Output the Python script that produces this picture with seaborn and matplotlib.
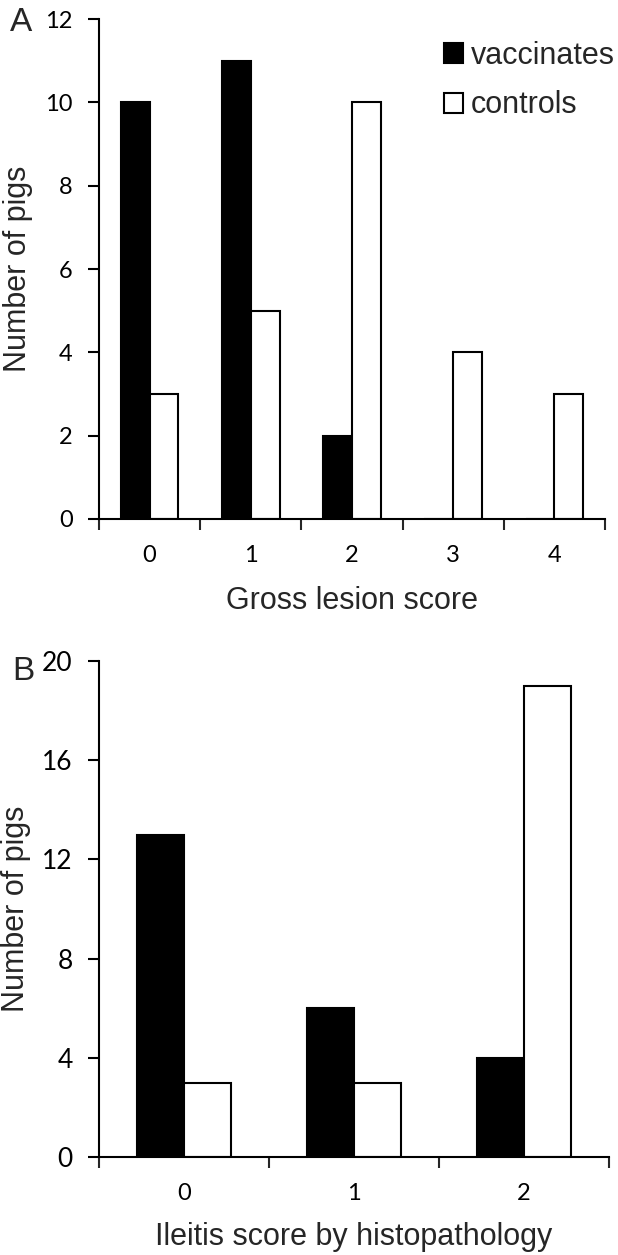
import matplotlib
matplotlib.use("Agg")
import matplotlib.pyplot as plt
from matplotlib.patches import Patch
from matplotlib.ticker import FixedLocator
import seaborn as sns
import pandas as pd

# ---- data ----
groups = ["vaccinates", "controls"]
gross_scores = ["0", "1", "2", "3", "4"]
gross_vaccinates = [10, 11, 2, 0, 0]
gross_controls = [3, 5, 10, 4, 3]
ileitis_scores = ["0", "1", "2"]
ileitis_vaccinates = [13, 6, 4]
ileitis_controls = [3, 3, 19]
gross_yticks = [0, 2, 4, 6, 8, 10, 12]
ileitis_yticks = [0, 4, 8, 12, 16, 20]

sns.set_style("ticks")
plt.rcParams["font.family"] = ["Liberation Sans", "DejaVu Sans"]
TICKFONT = "Lato"

def make_df(scores, vac, con):
    rows = []
    for s, v in zip(scores, vac):
        rows.append({"score": s, "group": "vaccinates", "count": v})
    for s, c in zip(scores, con):
        rows.append({"score": s, "group": "controls", "count": c})
    return pd.DataFrame(rows)

W, H = 618, 1255
fig = plt.figure(figsize=(W / 100, H / 100), dpi=100)

def ax_rect(x0, y0, x1, y1):
    return [x0 / W, 1 - y1 / H, (x1 - x0) / W, (y1 - y0) / H]

axA = fig.add_axes(ax_rect(99, 19, 605, 519))
axB = fig.add_axes(ax_rect(99, 661, 609, 1157))

palette = {"vaccinates": "black", "controls": "white"}
LW = 1.5

def draw(ax, scores, vac, con, yticks, ymax, xlabel, ylab_x, xlab_y, ytick_size, width):
    df = make_df(scores, vac, con)
    sns.barplot(data=df, x="score", y="count", hue="group", order=scores,
                hue_order=groups, palette=palette, edgecolor="black",
                linewidth=LW, width=width, ax=ax, legend=False, errorbar=None,
                saturation=1)
    n = len(scores)
    ax.set_xlim(-0.5, n - 0.5)
    ax.set_ylim(0, ymax)
    ax.set_yticks(yticks)
    ax.set_yticklabels([str(t) for t in yticks], fontsize=ytick_size, family=TICKFONT)
    ax.set_xticks(range(n))
    ax.set_xticklabels(scores, fontsize=17, family=TICKFONT)
    ax.xaxis.set_minor_locator(FixedLocator([i - 0.5 for i in range(n + 1)]))
    ax.tick_params(axis="x", which="major", length=0, pad=19)
    ax.tick_params(axis="x", which="minor", length=8, width=LW, direction="out")
    ax.tick_params(axis="y", which="major", length=8, width=LW, direction="out", pad=11)
    for s in ["top", "right"]:
        ax.spines[s].set_visible(False)
    for s in ["left", "bottom"]:
        ax.spines[s].set_linewidth(LW)
        ax.spines[s].set_color("black")
    ax.set_xlabel(xlabel, fontsize=22)
    ax.xaxis.set_label_coords(0.5, xlab_y)
    ax.set_ylabel("Number of pigs", fontsize=22)
    ax.yaxis.set_label_coords(ylab_x, 0.5)
    ax.tick_params(colors="black")

draw(axA, gross_scores, gross_vaccinates, gross_controls, gross_yticks, 12,
     "Gross lesion score", -0.13, -0.134, 17, 0.57)
draw(axB, ileitis_scores, ileitis_vaccinates, ileitis_controls, ileitis_yticks, 20,
     "Ileitis score by histopathology", -0.133, -0.131, 19, 0.55)

handles = [Patch(facecolor=palette[g], edgecolor="black", linewidth=LW) for g in groups]
axA.legend(handles, groups, loc="upper left", bbox_to_anchor=(0.682, 0.957),
           frameon=False, fontsize=22, handlelength=0.62, handleheight=0.62,
           handletextpad=0.25, labelspacing=0.65, borderpad=0, borderaxespad=0)

fig.text(10 / W, 1 - 7 / H, "A", fontsize=24, va="top", ha="left")
fig.text(12 / W, 1 - 656 / H, "B", fontsize=24, va="top", ha="left")

fig.savefig("out.png", dpi=100)
